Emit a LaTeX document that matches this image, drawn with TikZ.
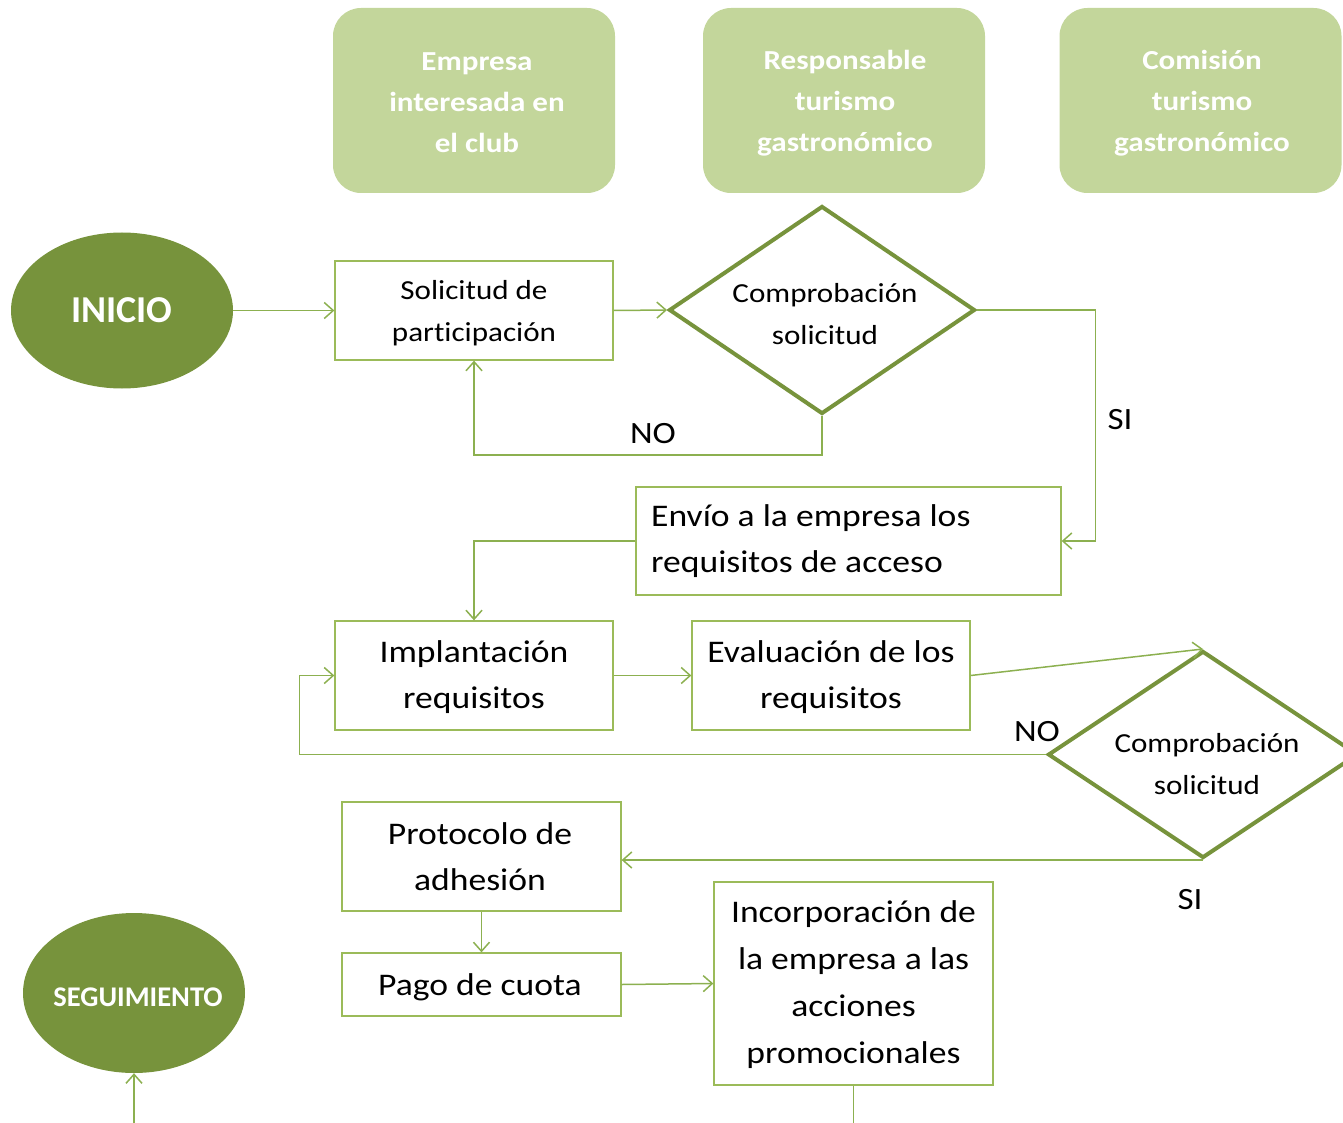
\documentclass[tikz,border=0pt]{standalone}
\usepackage{fontspec}
\setmainfont{Carlito}[Ligatures=NoCommon]
\newfontfamily\wide{Carlito}[FakeStretch=1.13,Ligatures=NoCommon]
\usetikzlibrary{shapes.geometric,arrows.meta}
\definecolor{hdr}{HTML}{C3D69B}
\definecolor{dark}{HTML}{77933C}
\definecolor{edgec}{HTML}{9BBB59}
\definecolor{connc}{HTML}{8CB050}
\tikzset{
  hdrbox/.style={rectangle, rounded corners=28pt, fill=hdr, minimum width=282pt, minimum height=185pt, inner sep=0},
  hdrtext/.style={text=white, font=\wide\bfseries\fontsize{27.5}{41}\selectfont, align=center, inner sep=0},
  fbox/.style={rectangle, draw=edgec, line width=1.3pt, fill=white, align=center, inner sep=0, text=black},
  oval/.style={ellipse, fill=dark, text=white, inner sep=0},
  dia/.style={diamond, draw=dark, line width=4pt, fill=white, minimum width=306pt, minimum height=208pt, inner sep=0},
  conn/.style={draw=connc, line width=1.5pt, -{Straight Barb[length=9pt,width=16pt]}},
  connline/.style={draw=connc, line width=1.5pt},
  lbl/.style={font=\wide\fontsize{31}{36}\selectfont, inner sep=0},
  dtext/.style={font=\wide\fontsize{27.5}{42}\selectfont, align=center, inner sep=0},
  btext/.style={font=\wide\fontsize{31.5}{46}\selectfont}
}
\begin{document}
\begin{tikzpicture}[x=1pt,y=-1pt]
\useasboundingbox (0,0) rectangle (1343,1123);
% headers
\node[hdrbox] (h1) at (474,100.5) {};
\node[hdrtext] (h1t) at (477,103) {Empresa\\interesada en\\el club};
\node[hdrbox] (h2) at (844,100.5) {};
\node[hdrtext] (h2t) at (845,103) {Responsable\\turismo\\gastronómico};
\node[hdrbox] (h3) at (1200.5,100.5) {};
\node[hdrtext] (h3t) at (1202,103) {Comisión\\turismo\\gastronómico};
% start / end
\node[oval, minimum width=222pt, minimum height=156pt, font=\bfseries\fontsize{38}{40}\selectfont] (inicio) at (122,310.5) {INICIO};
\node[oval, minimum width=222pt, minimum height=160pt] (seg) at (134,993) {};
\node[text=white, inner sep=0, font=\bfseries\fontsize{28.5}{30}\selectfont] (segt) at (138,997) {SEGUIMIENTO};
% boxes
\node[fbox, minimum width=278pt, minimum height=99pt] (sol) at (474,310.5) {};
\node[dtext] (solt) at (474,313) {Solicitud de\\participación};
\node[dia] (d1) at (822,310) {};
\node[dtext] (d1t) at (825,314) {Comprobación\\solicitud};
\node[fbox, minimum width=425pt, minimum height=108pt] (env) at (848.5,541) {};
\node[btext, align=left, inner sep=0, anchor=west] (envt) at (651,541) {Envío a la empresa los\\requisitos de acceso};
\node[fbox, minimum width=278pt, minimum height=109pt] (impl) at (474,675.5) {};
\node[btext, align=center, inner sep=0] (implt) at (474,677.5) {Implantación\\requisitos};
\node[fbox, minimum width=278pt, minimum height=109pt] (eval) at (831,675.5) {};
\node[btext, align=center, inner sep=0] (evalt) at (831,677.5) {Evaluación de los\\requisitos};
\node[dia, minimum height=207pt, minimum width=310pt] (d2) at (1203,754.5) {};
\node[dtext] (d2t) at (1207,764) {Comprobación\\solicitud};
\node[fbox, minimum width=279pt, minimum height=109pt] (prot) at (481.5,856.5) {};
\node[btext, align=center, inner sep=0] (prott) at (480,857) {Protocolo de\\adhesión};
\node[fbox, minimum width=279pt, minimum height=63pt] (pago) at (481.5,984.5) {};
\node[btext, align=center, inner sep=0] (pagot) at (480,987) {Pago de cuota};
\node[fbox, minimum width=279pt, minimum height=203pt] (inc) at (853.5,983.5) {};
\node[btext, align=center, inner sep=0, font=\wide\fontsize{31.5}{47}\selectfont] (inct) at (853.5,985) {Incorporación de\\la empresa a las\\acciones\\promocionales};
% free ends
\coordinate (incend) at (853.5,1126);
\coordinate (segstart) at (134,1126);
% connectors
\draw[conn] (inicio.east) -- (sol.west);
\draw[conn] (sol.east) -- (d1.west);
\draw[conn] (d1.south) -- ++(0,39) -| (sol.south);
\draw[conn] (d1.east) -| ([xshift=34pt]env.east) -- (env.east);
\draw[conn] (env.west) -| (impl.north);
\draw[conn] (impl.east) -- (eval.west);
\draw[conn] (eval.east) -- (d2.north);
\draw[conn] (d2.west) -| ([xshift=-35pt]impl.west) -- (impl.west);
\draw[conn] (d2.south) -- (d2.south -| prot.east);
\draw[conn] (prot.south) -- (pago.north);
\draw[conn] (pago.east) -- (inc.west);
\draw[connline] (inc.south) -- (incend);
\draw[conn] (segstart) -- (seg.south);
% labels
\node[lbl] (no1) at (653,434) {NO};
\node[lbl] (si1) at (1120,420) {SI};
\node[lbl] (no2) at (1037,732) {NO};
\node[lbl] (si2) at (1190,900) {SI};
\end{tikzpicture}
\end{document}
